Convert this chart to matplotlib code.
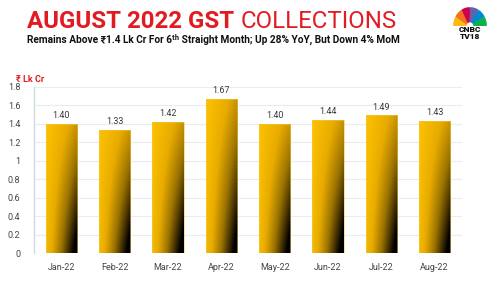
import matplotlib.pyplot as plt
import numpy as np
from matplotlib.colors import LinearSegmentedColormap
from matplotlib.patches import Wedge

# Données : collecte GST mensuelle (₹ Lk Cr)
mois = ["Jan-22", "Feb-22", "Mar-22", "Apr-22", "May-22", "Jun-22", "Jul-22", "Aug-22"]
collecte = [1.40, 1.33, 1.42, 1.67, 1.40, 1.44, 1.49, 1.43]
graduations = [0, 0.2, 0.4, 0.6, 0.8, 1, 1.2, 1.4, 1.6, 1.8]
etiquettes_grad = ["0", "0.2", "0.4", "0.6", "0.8", "1", "1.2", "1.4", "1.6", "1.8"]

rouge = "#E11B22"
plt.rcParams['font.family'] = ['Roboto', 'DejaVu Sans']

fig = plt.figure(figsize=(5, 3), dpi=100)
fig.patch.set_facecolor("white")
ax = fig.add_axes([0.0686, 0.1557, 0.8548, 0.5553])

# Dégradé jaune -> noir pour les barres (coin bas-droit sombre)
degrade = LinearSegmentedColormap.from_list(
    "or", [(0, "#FCC200"), (0.3, "#E8AB00"), (0.6, "#9a7200"), (0.85, "#3a2a00"), (1, "#000000")])
gx, gy = np.meshgrid(np.linspace(0, 1, 60), np.linspace(0, 1, 120))
champ = np.clip(gx * (0.42 + 0.6 * gy) + 0.12 * gy, 0, 1)

x = np.arange(len(mois))
barres = ax.bar(x, collecte, width=0.59, color="none", edgecolor="#F5C842", linewidth=0.4, zorder=3)
for b, v in zip(barres, collecte):
    x0, y0 = b.get_x(), b.get_y()
    w, h = b.get_width(), b.get_height()
    im = ax.imshow(champ, cmap=degrade, vmin=0, vmax=1, extent=(x0, x0 + w, y0, y0 + h),
                   origin="upper", aspect="auto", zorder=2, interpolation="bilinear")
    im.set_clip_path(b)
    ax.text(x0 + w / 2, v + 0.04, f"{v:.2f}", ha="center", va="bottom",
            fontsize=6.5, color="#3a3a3a")

ax.set_xlim(-0.51, 7.51)
ax.set_ylim(0, 1.8)
ax.set_yticks(graduations)
ax.set_yticklabels(etiquettes_grad)
ax.set_xticks(x)
ax.set_xticklabels(mois)
ax.tick_params(axis="both", length=0, labelsize=6.5, colors="#444444")
ax.tick_params(axis="x", pad=7)
ax.tick_params(axis="y", pad=10)
ax.grid(axis="y", color="#ececec", linewidth=0.8, zorder=0)
ax.set_axisbelow(True)
for s in ["top", "right", "bottom"]:
    ax.spines[s].set_visible(False)
ax.spines["left"].set_color("#cfdbe3")
ax.spines["left"].set_linewidth(1.0)

# Titres
t1 = fig.text(0.054, 0.905, "AUGUST 2022 GST ", fontsize=17.3, fontweight="bold", color=rouge, va="baseline")
fig.canvas.draw()
bb = t1.get_window_extent()
fig.text(bb.x1 / 500, 0.905, "COLLECTIONS", fontsize=17.3, fontweight="normal", color=rouge, va="baseline")
fig.text(0.054, 0.858, "Remains Above ₹1.4 Lk Cr For 6ᵗʰ Straight Month; Up 28% YoY, But Down 4% MoM",
         fontsize=7.3, fontweight="bold", color="#111111", va="baseline")
fig.text(0.032, 0.727, "₹ Lk Cr", fontsize=6.5, fontweight="bold", color=rouge, va="baseline")

# Logo CNBC TV18 (approximation)
logo = fig.add_axes([0.906, 0.913, 0.068, 0.064])
couleurs_plumes = ["#FDB913", "#F37021", "#CC004C", "#6460AA", "#0089D0", "#0DB14B"]
for i, c in enumerate(couleurs_plumes):
    a0 = 180 - i * 30
    logo.add_patch(Wedge((0, 0), 1.0, a0 - 28, a0 - 2, width=0.75, color=c))
logo.set_xlim(-1.05, 1.05)
logo.set_ylim(0, 1.05)
logo.axis("off")
fig.text(0.94, 0.9, "CNBC", fontsize=6, fontweight="black", color="#111111", ha="center", va="center")
fig.text(0.94, 0.877, "TV18", fontsize=6, fontweight="black", color="#111111", ha="center", va="center")

fig.savefig("out.png", dpi=100)
